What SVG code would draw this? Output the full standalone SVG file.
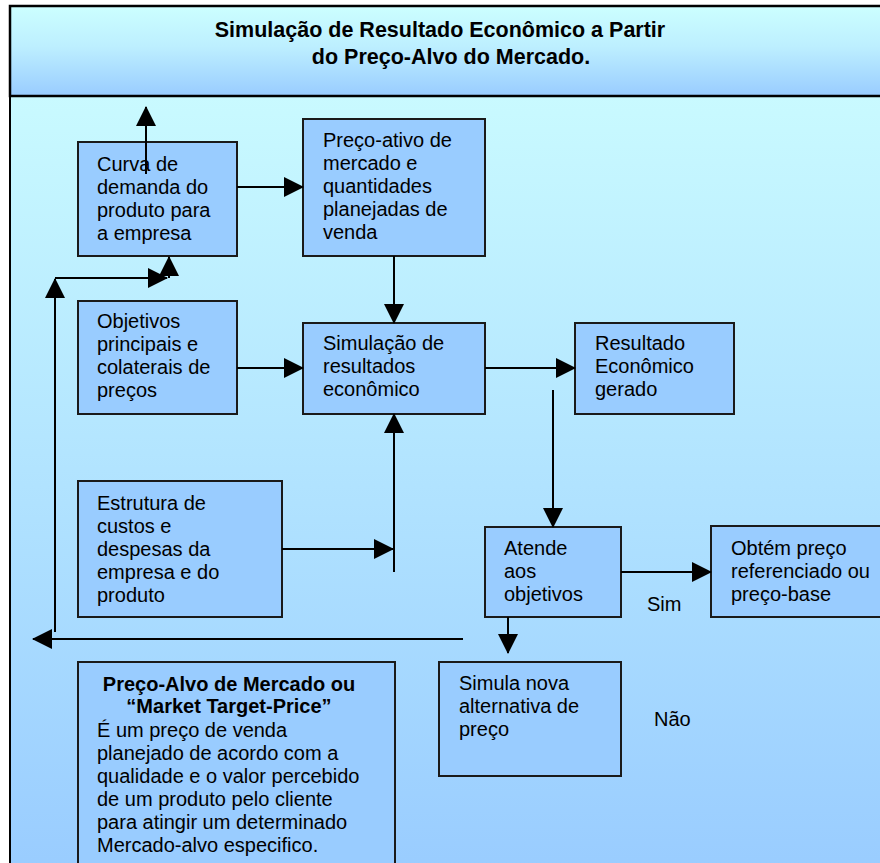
<svg xmlns="http://www.w3.org/2000/svg" width="880" height="863" viewBox="0 0 880 863">
<defs>
<linearGradient id="gTitle" x1="0" y1="0" x2="0" y2="1">
<stop offset="0" stop-color="#CCFFFF"/>
<stop offset="0.45" stop-color="#BDEFFF"/>
<stop offset="1" stop-color="#99CCFF"/>
</linearGradient>
<linearGradient id="gBody" x1="0" y1="0" x2="0" y2="1">
<stop offset="0" stop-color="#C9FAFF"/>
<stop offset="1" stop-color="#99CCFF"/>
</linearGradient>
<marker id="ah" markerUnits="userSpaceOnUse" markerWidth="20" markerHeight="20" refX="19" refY="10" orient="auto" viewBox="0 0 20 20">
<path d="M0,0 L20,10 L0,20 Z" fill="#000"/>
</marker>
<style>
.box{fill:#99CCFF;stroke:#1a1a1a;stroke-width:2}
.t{font-family:"Liberation Sans",Arial,sans-serif;font-size:20px;fill:#000}
.b{font-family:"Liberation Sans",Arial,sans-serif;font-size:20px;font-weight:bold;fill:#000}
.title{font-family:"Liberation Sans",Arial,sans-serif;font-size:21.5px;font-weight:bold;fill:#000}
.c{fill:none;stroke:#000;stroke-width:2}
.c path{marker-end:url(#ah)}
</style>
</defs>
<rect x="0" y="0" width="880" height="863" fill="#FFFFFF"/>
<rect x="10" y="96" width="880" height="780" fill="url(#gBody)" stroke="#000" stroke-width="2"/>
<g id="title">
<rect x="10" y="6" width="880" height="90" fill="url(#gTitle)" stroke="#000" stroke-width="2.5"/>
<text class="title" x="440" y="37" text-anchor="middle">Simulação de Resultado Econômico a Partir</text>
<text class="title" x="451" y="64" text-anchor="middle">do Preço-Alvo do Mercado.</text>
</g>
<g id="curva">
<rect class="box" x="78" y="142" width="159" height="114"/>
<text class="t" x="97" y="171">Curva de</text>
<text class="t" x="97" y="194">demanda do</text>
<text class="t" x="97" y="217">produto para</text>
<text class="t" x="97" y="240">a empresa</text>
</g>
<g id="preco-ativo">
<rect class="box" x="303" y="119" width="182" height="137"/>
<text class="t" x="323" y="147">Preço-ativo de</text>
<text class="t" x="323" y="170">mercado e</text>
<text class="t" x="323" y="193">quantidades</text>
<text class="t" x="323" y="216">planejadas de</text>
<text class="t" x="323" y="239">venda</text>
</g>
<g id="objetivos">
<rect class="box" x="78" y="301" width="159" height="113"/>
<text class="t" x="97" y="328">Objetivos</text>
<text class="t" x="97" y="351">principais e</text>
<text class="t" x="97" y="374">colaterais de</text>
<text class="t" x="97" y="397">preços</text>
</g>
<g id="simulacao">
<rect class="box" x="303" y="323" width="182" height="91"/>
<text class="t" x="323" y="350">Simulação de</text>
<text class="t" x="323" y="373">resultados</text>
<text class="t" x="323" y="396">econômico</text>
</g>
<g id="resultado">
<rect class="box" x="575" y="323" width="159" height="91"/>
<text class="t" x="595" y="350">Resultado</text>
<text class="t" x="595" y="373">Econômico</text>
<text class="t" x="595" y="396">gerado</text>
</g>
<g id="estrutura">
<rect class="box" x="78" y="481" width="204" height="136"/>
<text class="t" x="97" y="510">Estrutura de</text>
<text class="t" x="97" y="533">custos e</text>
<text class="t" x="97" y="556">despesas da</text>
<text class="t" x="97" y="579">empresa e do</text>
<text class="t" x="97" y="602">produto</text>
</g>
<g id="atende">
<rect class="box" x="485" y="527" width="136" height="90"/>
<text class="t" x="504" y="555">Atende</text>
<text class="t" x="504" y="578">aos</text>
<text class="t" x="504" y="601">objetivos</text>
</g>
<g id="obtem">
<rect class="box" x="711" y="526" width="190" height="91"/>
<text class="t" x="731" y="555">Obtém preço</text>
<text class="t" x="731" y="578">referenciado ou</text>
<text class="t" x="731" y="601">preço-base</text>
</g>
<g id="simula">
<rect class="box" x="439" y="662" width="182" height="114"/>
<text class="t" x="459" y="690">Simula nova</text>
<text class="t" x="459" y="713">alternativa de</text>
<text class="t" x="459" y="736">preço</text>
</g>
<g id="preco-alvo">
<rect class="box" x="78" y="662" width="317" height="220"/>
<text class="b" x="229" y="691" text-anchor="middle">Preço-Alvo de Mercado ou</text>
<text class="b" x="229" y="713" text-anchor="middle">“Market Target-Price”</text>
<text class="t" x="97" y="737">É um preço de venda</text>
<text class="t" x="97" y="760">planejado de acordo com a</text>
<text class="t" x="97" y="783">qualidade e o valor percebido</text>
<text class="t" x="97" y="806">de um produto pelo cliente</text>
<text class="t" x="97" y="829">para atingir um determinado</text>
<text class="t" x="97" y="852">Mercado-alvo especifico.</text>
</g>
<g id="labels">
<text class="t" x="647" y="611">Sim</text>
<text class="t" x="654" y="726">Não</text>
</g>
<g id="connectors" class="c">
<path d="M237,187 H303"/>
<path d="M146,174 V107"/>
<path d="M394,256 V323"/>
<path d="M237,368 H303"/>
<path d="M485,368 H575"/>
<path d="M553,390 V527"/>
<path d="M621,572 H711"/>
<path d="M508,617 V653"/>
<path d="M282,549 H393"/>
<path d="M394,572 V414"/>
<path d="M463,639 H33"/>
<path d="M55,632 V279"/>
<path d="M55,278 H167"/>
<path d="M169,278 V257"/>
</g>
</svg>
